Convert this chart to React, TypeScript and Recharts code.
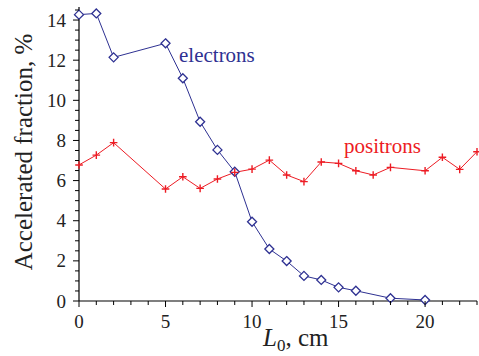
import React from 'react';
import { LineChart, Line, XAxis, YAxis } from 'recharts';

// electrons: L0 (cm) vs accelerated fraction (%)
const electronL = [0, 1, 2, 5, 6, 7, 8, 9, 10, 11, 12, 13, 14, 15, 16, 18, 20];
const electronFrac = [14.27, 14.33, 12.14, 12.84, 11.1, 8.93, 7.53, 6.44, 3.95, 2.59, 1.99, 1.25, 1.05, 0.68, 0.51, 0.14, 0.05];

// positrons
const positronL = [0, 1, 2, 5, 6, 7, 8, 9, 10, 11, 12, 13, 14, 15, 16, 17, 18, 20, 21, 22, 23];
const positronFrac = [6.78, 7.27, 7.89, 5.58, 6.19, 5.61, 6.08, 6.41, 6.57, 7.02, 6.28, 5.95, 6.93, 6.86, 6.49, 6.28, 6.66, 6.49, 7.16, 6.56, 7.44];

const xMajor = [0, 5, 10, 15, 20];
const yMajor = [0, 2, 4, 6, 8, 10, 12, 14];
const xTicks = Array.from({ length: 24 }, (_, i) => i);
const yTicks = Array.from({ length: 30 }, (_, i) => i * 0.5);

const BLUE = '#2e3192';
const RED = '#ed1c24';
const serif = { fontFamily: 'Liberation Serif, serif' };

const electrons = electronL.map((l, i) => ({ l, v: electronFrac[i] }));
const positrons = positronL.map((l, i) => ({ l, v: positronFrac[i] }));

const Diamond = (props: any) => {
    const { cx, cy, index } = props;
    if (cx == null || cy == null) return null;
    const r = 4.5;
    return (
        <path
            key={`d-${index}`}
            d={`M${cx},${cy - r}L${cx + r},${cy}L${cx},${cy + r}L${cx - r},${cy}Z`}
            fill="white"
            stroke={BLUE}
            strokeWidth={1.3}
        />
    );
};

const Plus = (props: any) => {
    const { cx, cy, index } = props;
    if (cx == null || cy == null) return null;
    const r = 3.8;
    return (
        <path
            key={`p-${index}`}
            d={`M${cx - r},${cy}H${cx + r}M${cx},${cy - r}V${cy + r}`}
            stroke={RED}
            strokeWidth={1.4}
        />
    );
};

const YTick = (props: any) => {
    const { x, y, payload } = props;
    const major = yMajor.includes(payload.value);
    return (
        <g>
            <line x1={x - (major ? 6 : 4)} x2={x} y1={y} y2={y} stroke="#000" strokeWidth={1} />
            {major && (
                <text x={x - 13} y={y} dy={6.5} textAnchor="end" fontSize={19} style={serif} fill="#222">
                    {payload.value}
                </text>
            )}
        </g>
    );
};

const XTick = (props: any) => {
    const { x, y, payload } = props;
    const major = xMajor.includes(payload.value);
    return (
        <g>
            <line x1={x} x2={x} y1={y} y2={y + (major ? 6 : 4)} stroke="#000" strokeWidth={1} />
            {major && (
                <text x={x} y={y + 27} textAnchor="middle" fontSize={19} style={serif} fill="#222">
                    {payload.value}
                </text>
            )}
        </g>
    );
};

export default function App() {
    return (
        <div style={{ position: 'absolute', left: 0, top: 0, background: '#fff', ...serif }}>
            <LineChart width={479} height={356} margin={{ top: 7, right: 2, left: 0, bottom: 0 }}>
                <XAxis
                    dataKey="l"
                    type="number"
                    domain={[0, 23]}
                    ticks={xTicks}
                    interval={0}
                    height={55}
                    tickSize={0}
                    tickMargin={0}
                    tickLine={false}
                    tick={<XTick />}
                    axisLine={{ stroke: '#000', strokeWidth: 1.2 }}
                    allowDuplicatedCategory={false}
                />
                <YAxis
                    dataKey="v"
                    type="number"
                    domain={[0, 14.65]}
                    ticks={yTicks}
                    interval={0}
                    width={79}
                    tickSize={0}
                    tickMargin={0}
                    tickLine={false}
                    tick={<YTick />}
                    axisLine={{ stroke: '#000', strokeWidth: 1.2 }}
                />
                <Line
                    data={electrons}
                    dataKey="v"
                    stroke={BLUE}
                    strokeWidth={1}
                    dot={<Diamond />}
                    isAnimationActive={false}
                />
                <Line
                    data={positrons}
                    dataKey="v"
                    stroke={RED}
                    strokeWidth={1}
                    dot={<Plus />}
                    isAnimationActive={false}
                />
                <text x={179} y={62} fontSize={21} style={serif} fill={BLUE}>electrons</text>
                <text x={344} y={153} fontSize={21} style={serif} fill={RED}>positrons</text>
                <text
                    transform="translate(32,152) rotate(-90)"
                    textAnchor="middle"
                    fontSize={25}
                    style={serif}
                    fill="#222"
                >
                    Accelerated fraction, %
                </text>
                <text x={263} y={346} fontSize={25} style={serif} fill="#222">
                    <tspan fontStyle="italic">L</tspan>
                    <tspan fontSize={17} dy={5}>0</tspan>
                    <tspan dy={-5}>, cm</tspan>
                </text>
            </LineChart>
        </div>
    );
}
